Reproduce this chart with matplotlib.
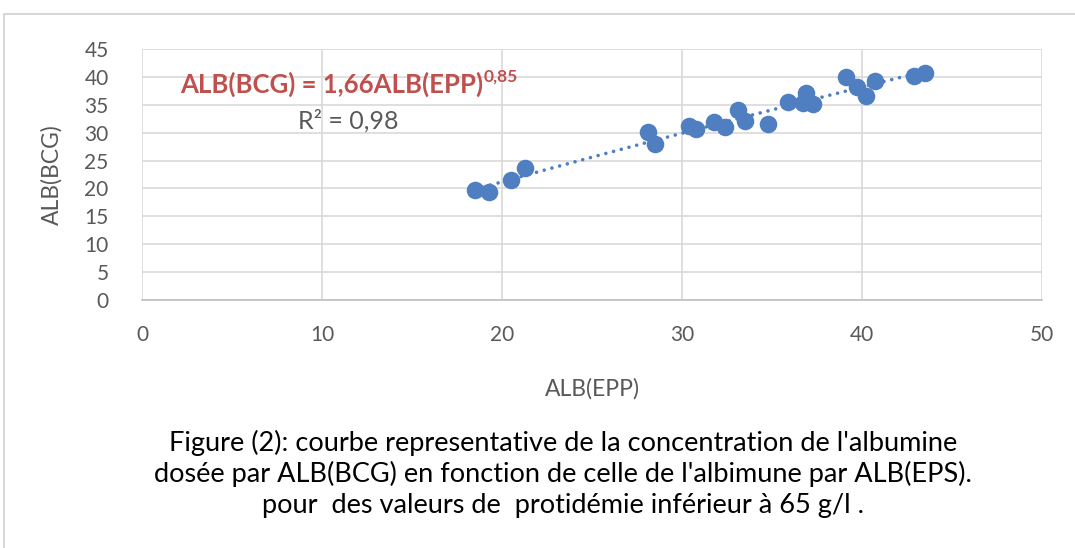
import numpy as np
import matplotlib.pyplot as plt
from matplotlib.patches import Rectangle

# data
alb_epp = [18.5, 19.3, 20.5, 21.3, 28.1, 28.5, 30.4, 30.8, 31.8, 32.4, 33.1, 33.5,
           34.8, 35.9, 36.9, 36.7, 37.3, 39.1, 39.7, 40.2, 40.7, 42.9, 43.5]
alb_bcg = [19.7, 19.4, 21.5, 23.7, 30.1, 28.0, 31.2, 30.7, 31.9, 31.0, 34.1, 32.1,
           31.5, 35.5, 37.1, 35.3, 35.1, 40.0, 38.2, 36.6, 39.3, 40.2, 40.7]
coef_a = 1.66
coef_b = 0.85
x_ticks = [0, 10, 20, 30, 40, 50]
y_ticks = [0, 5, 10, 15, 20, 25, 30, 35, 40, 45]

plt.rcParams['font.family'] = ['Lato', 'DejaVu Sans']
blue = '#4F7FC0'
gray = '#595959'
grid = '#D9D9D9'
red = '#C0504D'

fig = plt.figure(figsize=(10.75, 5.48), dpi=100)
ax = fig.add_axes([142/1075, 1-300/548, 900/1075, 251/548])

# outer chart frame
fig.patches.append(Rectangle((4/1075, -0.05), 1.2, 1-14/548+0.05, transform=fig.transFigure,
                             fill=False, edgecolor='#D0D0D0', linewidth=1.2))

ax.scatter(alb_epp, alb_bcg, s=160, color=blue, zorder=3, linewidths=0)

# power trendline from the equation shown on the chart
xt = np.linspace(min(alb_epp), max(alb_epp), 100)
ax.plot(xt, coef_a * xt ** coef_b, linestyle=(0, (0.01, 2.2)), color=blue, linewidth=2.6,
        dash_capstyle='round', zorder=2)

ax.set_xlim(0, 50)
ax.set_ylim(0, 45)
ax.set_xticks(x_ticks)
ax.set_yticks(y_ticks)
ax.grid(True, color=grid, linewidth=1.2)
ax.set_axisbelow(True)
for s in ['top', 'right', 'left']:
    ax.spines[s].set_visible(False)
ax.spines['bottom'].set_color('#BFBFBF')
ax.spines['bottom'].set_linewidth(1.2)
ax.tick_params(length=0, labelsize=15, labelcolor=gray)
ax.tick_params(axis='x', pad=18)
ax.tick_params(axis='y', pad=24)

ax.set_xlabel('ALB(EPP)', fontsize=16.5, color=gray, labelpad=24)
ax.set_ylabel('ALB(BCG)', fontsize=16.5, color=gray, labelpad=16)

eq = fig.text(180/1075, 1-84/548, 'ALB(BCG) = 1,66ALB(EPP)', fontsize=18.5,
              fontweight='bold', color=red, va='center', ha='left')
bb = eq.get_window_extent(renderer=fig.canvas.get_renderer())
fig.text(bb.x1/1075 + 1/1075, 1-77/548, '0,85', fontsize=12.5, fontweight='bold',
         color=red, va='center', ha='left')
fig.text(298/1075, 1-121/548, 'R² = 0,98', fontsize=18, color=gray, va='center', ha='left')

caption = ["Figure (2): courbe representative de la concentration de l'albumine",
           "dosée par ALB(BCG) en fonction de celle de l'albimune par ALB(EPS).",
           "pour  des valeurs de  protidémie inférieur à 65 g/l ."]
for i, line in enumerate(caption):
    fig.text(563/1075, 1-(443+31*i)/548, line, fontsize=19.5, color='black',
             ha='center', va='center')

fig.savefig('out.png', dpi=100)
